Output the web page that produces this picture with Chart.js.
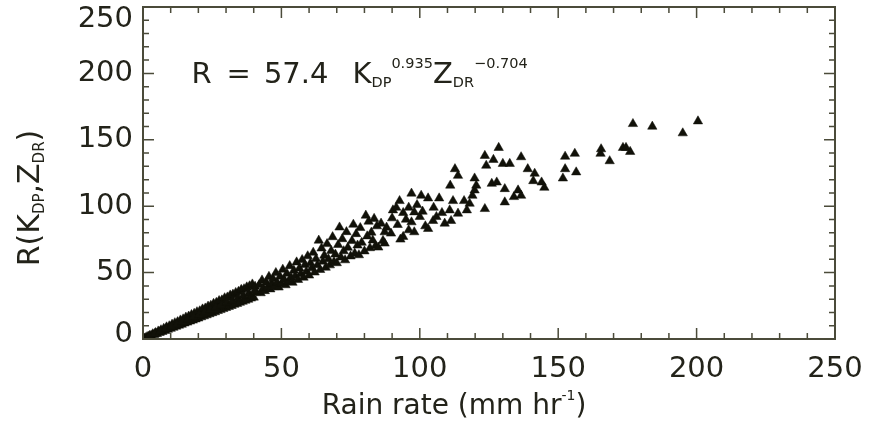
<!DOCTYPE html>
<html>
<head>
<meta charset="utf-8">
<script src="https://cdn.jsdelivr.net/npm/chart.js@4"></script>
<style>
  html, body { margin: 0; padding: 0; background: #fff; }
  #wrap { width: 872px; height: 426px; }
</style>
</head>
<body>
<div id="wrap"><canvas id="rain-chart" width="872" height="426"></canvas></div>
<script>
// Rain rate (x) vs R(Kdp, Zdr) estimate (y)
const rainRate = [
  0.5, 1, 1.5, 2, 2.5, 3, 3.5, 4, 4.5, 5, 5.5, 6, 6.5, 7, 7.5, 8, 8.5, 9, 9.5, 10,
  10.5, 11, 11.5, 12, 12.5, 13, 13.5, 14, 14.5, 15, 15.5, 16, 16.5, 17, 17.5, 18, 18.5, 19, 19.5, 20,
  20.5, 21, 21.5, 22, 22.5, 23, 23.5, 24, 24.5, 25, 25.5, 26, 26.5, 27, 27.5, 28, 28.5, 29, 29.5, 30,
  30.5, 31, 31.5, 32, 32.5, 33, 33.5, 34, 34.5, 35, 35.5, 36, 36.5, 37, 37.5, 38, 38.5, 39, 39.5, 40,
  40.5, 41, 42, 42.5, 43, 43.5, 44, 44.5, 45, 45.5, 46, 46.5, 47, 47.5, 48, 48.5, 49, 49.5, 50, 50.5,
  51, 51.5, 52, 52.5, 53, 53.5, 54, 54.5, 55, 55.5, 56, 56.5, 57, 57.5, 58, 58.5, 59, 59.5, 60, 60.5,
  61, 61.5, 62, 62.5, 63, 63.5, 64, 64.5, 65, 65.5, 66, 66.5, 67, 67.5, 68, 68.5, 69, 69.5, 70, 70.5,
  71, 71.5, 72, 72.5, 73, 73.5, 74, 75, 75.5, 76, 76.5, 77, 77.5, 78, 78.5, 79, 80, 80.5, 81, 81.5,
  82, 82.5, 83, 83.5, 84, 84.5,
  85, 87.3, 86.7, 86, 87.3, 89.6, 90.3, 91.5, 92.7, 94, 96, 97, 98, 98, 100, 100.5, 103, 103, 104.8, 106,
  107, 110.8, 111.3, 111, 112, 112.7, 113.8, 113.8, 116, 117, 118, 119, 119.8, 119.8, 120.4, 123.5, 123.5, 124, 126, 126.6,
  127.8, 128.5, 130, 130.7, 130.7, 132.5, 134, 135.5, 136.6, 136.6, 139, 141, 141.5, 144, 145, 151.7, 152.5, 152.5, 156, 156.5,
  165.3, 165.5, 168.6, 173.4, 174.5, 176, 177, 184, 195, 200.5,
  88, 92, 95, 93, 96, 99, 101, 102, 105, 108, 109, 94, 90, 97,
  2.25, 4.25, 6.25, 8.25, 10.25, 12.25, 14.25, 16.25, 18.25, 20.25,
  22.25, 24.25, 26.25, 28.25, 30.25, 32.25, 34.25, 36.25, 38.25, 40.25
];
const rEstimate = [
  0.5, 0.8, 1.6, 1.6, 2.6, 2.3, 3.7, 3.1, 4.6, 3.9, 5.8, 4.7, 6.7, 5.5, 7.8, 6.2, 8.9, 7.1, 9.7, 7.8,
  10.9, 8.6, 12.0, 9.4, 12.8, 10.2, 14.1, 10.9, 14.9, 11.8, 16.2, 12.5, 17.0, 13.3, 18.2, 14.0, 19.1, 14.9, 20.3, 15.6,
  21.0, 16.5, 22.4, 17.2, 23.1, 18.0, 24.5, 18.8, 25.2, 19.6, 26.6, 20.3, 27.3, 21.2, 28.7, 21.9, 29.2, 22.7, 30.8, 23.5,
  31.4, 24.3, 32.9, 25.0, 33.5, 25.9, 34.8, 26.6, 35.6, 27.4, 37.1, 28.2, 37.6, 29.0, 39.0, 29.7, 39.8, 30.6, 41.2, 31.3,
  39.5, 35.1, 40.8, 34.6, 44.2, 37.9, 36.2, 42.7, 38.8, 46.9, 37.5, 41.6, 45.3, 39.2, 49.8, 42.4, 38.9, 47.1, 41.6, 52.3,
  44.8, 40.6, 49.3, 43.1, 55.0, 46.2, 42.5, 51.6, 47.4, 57.8, 44.6, 53.2, 49.1, 59.6, 46.3, 55.9, 50.8, 62.4, 47.9, 57.2,
  53.4, 65.1, 50.2, 60.3, 55.7, 74.2, 52.1, 68.3, 58.4, 62.9, 53.8, 71.6, 60.2, 55.6, 66.4, 76.8, 58.1, 63.7, 57.2, 70.9,
  84.1, 61.5, 75.3, 66.2, 59.4, 80.6, 68.8, 62.3, 73.9, 86.2, 64.4, 79.1, 70.5, 63.2, 83.7, 72.6, 66.1, 93.0, 77.4, 88.5,
  68.5, 80.2, 74.3, 90.6, 70.1, 85.0,
  69, 72, 74, 87, 80.5, 79.5, 97, 99, 104, 77, 99, 109.6, 95.5, 80.5, 92, 108, 106, 83, 89, 92,
  106, 97, 89, 115.6, 104, 128, 123, 94.5, 104, 97, 102, 108, 112, 121, 115.6, 98, 138, 130.6, 117, 135,
  118, 144, 132, 113, 103, 132, 107, 112, 108, 137, 128, 119, 124.6, 118, 114, 121, 128, 137.4, 139.6, 125.6,
  139.6, 143, 134, 144, 144, 141, 162, 160, 155, 164,
  84, 86, 90, 75, 82, 101, 96, 85, 99, 95, 87, 95, 91, 88,
  2.0, 3.8, 5.7, 7.4, 9.3, 11.0, 12.9, 14.6, 16.5, 18.2,
  20.1, 21.8, 23.7, 25.4, 27.3, 29.0, 30.9, 32.6, 34.5, 36.2
];
const xTicks = [0, 50, 100, 150, 200, 250];
const yTicks = [0, 50, 100, 150, 200, 250];
const minorStep = 10;

const INK = '#23231a';
const FRAME = '#4b4b3a';
const FONT = '"DejaVu Sans", Verdana, sans-serif';
const SMALL = 0.5;

// draw a run of text pieces (normal / sub / sup / gap) starting at x, baseline y
const drawPieces = (ctx, pieces, x, y, size) => {
    pieces.forEach(([txt, kind]) => {
        let fs = size, dy = 0;
        if (kind === 'gap') { x += txt; return; }
        if (kind === 'sub') { fs = size * SMALL; dy = size * 0.15; }
        if (kind === 'sup') { fs = size * SMALL; dy = -size * 0.5; }
        ctx.font = `${fs}px ${FONT}`;
        ctx.fillText(txt, x, y + dy);
        x += ctx.measureText(txt).width;
    });
    return x;
};

const piecesWidth = (ctx, pieces, size) => {
    let w = 0;
    pieces.forEach(([txt, kind]) => {
        if (kind === 'gap') { w += txt; return; }
        const fs = (kind === 'sub' || kind === 'sup') ? size * SMALL : size;
        ctx.font = `${fs}px ${FONT}`;
        w += ctx.measureText(txt).width;
    });
    return w;
};

// IDL-style frame with inward ticks, y labels, axis titles and the fit equation
const framePlugin = {
    id: 'frame',
    afterDraw(chart) {
        const { ctx, chartArea: a, scales: { x, y } } = chart;
        ctx.save();
        ctx.strokeStyle = FRAME;
        ctx.lineWidth = 2;
        ctx.strokeRect(a.left, a.top, a.right - a.left, a.bottom - a.top);

        ctx.lineWidth = 1.5;
        ctx.beginPath();
        for (let v = 0; v <= 250; v += minorStep) {
            const len = v % 50 === 0 ? 11 : 6;
            const px = x.getPixelForValue(v);
            ctx.moveTo(px, a.bottom); ctx.lineTo(px, a.bottom - len);
            ctx.moveTo(px, a.top); ctx.lineTo(px, a.top + len);
            const py = y.getPixelForValue(v);
            ctx.moveTo(a.left, py); ctx.lineTo(a.left + len, py);
            ctx.moveTo(a.right, py); ctx.lineTo(a.right - len, py);
        }
        ctx.stroke();

        ctx.fillStyle = INK;

        // y tick labels (kept inside the canvas at the top, like the original)
        ctx.font = `29px ${FONT}`;
        ctx.textAlign = 'right';
        ctx.textBaseline = 'middle';
        yTicks.forEach(v => {
            const py = Math.min(Math.max(y.getPixelForValue(v), 19), 334);
            ctx.fillText(String(v), a.left - 10, py);
        });

        ctx.textBaseline = 'alphabetic';
        ctx.textAlign = 'left';

        // x title
        const xt = [['Rain rate (mm hr', 'n'], ['-1', 'sup'], [')', 'n']];
        const xw = piecesWidth(ctx, xt, 28);
        drawPieces(ctx, xt, 454 - xw / 2, 414, 28);

        // y title, rotated
        const yt = [['R(K', 'n'], ['DP', 'sub'], [',', 'n'], ['Z', 'n'], ['DR', 'sub'], [')', 'n']];
        const yw = piecesWidth(ctx, yt, 30);
        ctx.save();
        ctx.translate(39, 198);
        ctx.rotate(-Math.PI / 2);
        drawPieces(ctx, yt, -yw / 2, 0, 30);
        ctx.restore();

        // equation inside the plot
        const eq = [['R', 'n'], [15, 'gap'], ['=', 'n'], [13, 'gap'], ['57.4', 'n'], [24, 'gap'], ['K', 'n'],
            ['DP', 'sub'], ['0.935', 'sup'], ['Z', 'n'], ['DR', 'sub'], ['\u22120.704', 'sup']];
        drawPieces(ctx, eq, x.getPixelForValue(17.5), y.getPixelForValue(193), 29);
        ctx.restore();
    }
};

const displayChart = () => {
    const ctx = document.getElementById('rain-chart').getContext('2d');
    const points = rainRate.map((r, i) => ({ x: r, y: rEstimate[i] }));

    new Chart(ctx, {
        type: 'scatter',
        data: {
            datasets: [{
                data: points,
                pointStyle: 'triangle',
                pointRadius: 5.4,
                backgroundColor: '#111109',
                borderColor: '#111109',
                borderWidth: 0.5,
            }]
        },
        options: {
            responsive: false,
            animation: false,
            layout: { padding: { top: 7, right: 37, left: 0, bottom: 0 } },
            plugins: { legend: { display: false }, tooltip: { enabled: false } },
            scales: {
                x: {
                    type: 'linear', min: 0, max: 250,
                    grid: { display: false, drawTicks: false },
                    border: { display: false },
                    afterBuildTicks: s => { s.ticks = xTicks.map(v => ({ value: v })); },
                    afterFit: s => { s.height = 87; s.paddingLeft = 0; s.paddingRight = 0; },
                    ticks: { color: INK, padding: 13, font: { family: FONT, size: 29 } },
                },
                y: {
                    min: 0, max: 250,
                    grid: { display: false, drawTicks: false },
                    border: { display: false },
                    afterBuildTicks: s => { s.ticks = yTicks.map(v => ({ value: v })); },
                    afterFit: s => { s.width = 143; s.paddingTop = 0; s.paddingBottom = 0; },
                    ticks: { display: false },
                }
            }
        },
        plugins: [framePlugin]
    });
};

window.onload = displayChart;
</script>
</body>
</html>
